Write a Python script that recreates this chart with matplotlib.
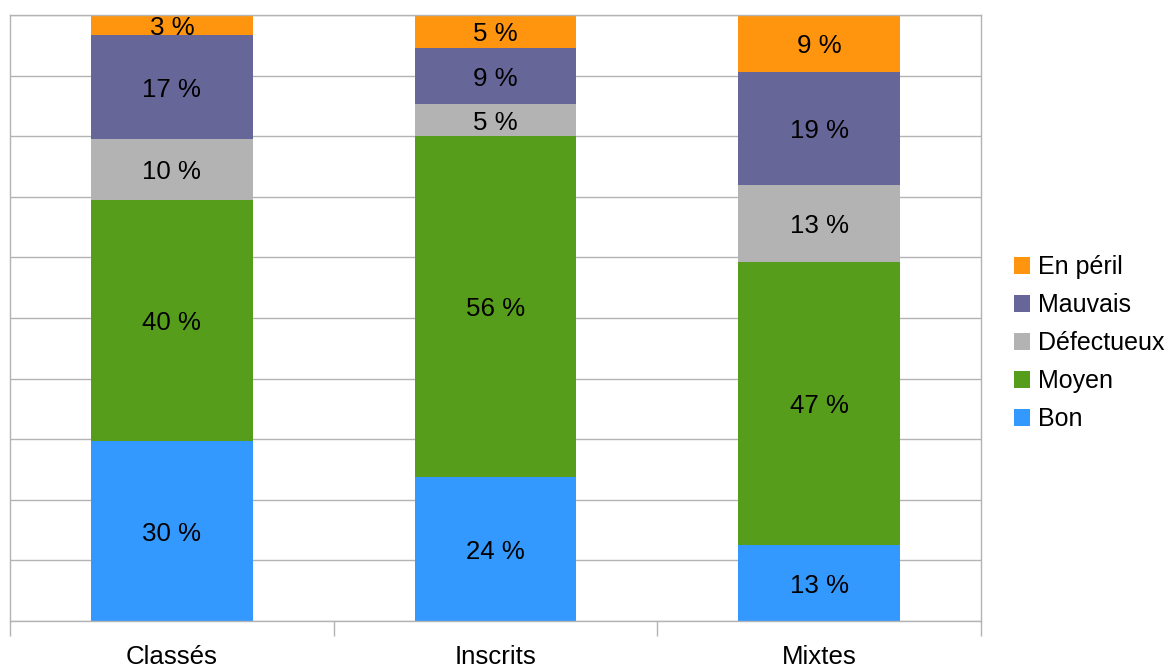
import numpy as np
import matplotlib.pyplot as plt

plt.rcParams['font.family'] = ['Liberation Sans', 'DejaVu Sans']

categories = ['Classés', 'Inscrits', 'Mixtes']
series = ['Bon', 'Moyen', 'Défectueux', 'Mauvais', 'En péril']
bon = [29.7, 23.8, 12.6]
moyen = [39.8, 56.3, 46.7]
defectueux = [10.1, 5.2, 12.6]
mauvais = [17.1, 9.3, 18.7]
en_peril = [3.3, 5.4, 9.4]
colors = ['#3399ff', '#579d1c', '#b3b3b3', '#666699', '#ff950e']

fig = plt.figure(figsize=(11.73, 6.66), dpi=100)
ax = fig.add_axes([10 / 1173, 45 / 666, 971 / 1173, 606 / 666])

x = np.arange(len(categories))
bottom = np.zeros(len(categories))
handles = []
for name, vals, c in zip(series, [bon, moyen, defectueux, mauvais, en_peril], colors):
    vals = np.array(vals)
    bars = ax.bar(x, vals, 0.5, bottom=bottom, color=c, label=name, zorder=2)
    txts = ax.bar_label(bars, labels=[f'{round(v)} %' for v in vals], label_type='center',
                        fontsize=18.6, color='black')
    for t in txts:
        t.xyann = (0, -2)  # ref labels sit a bit lower
    bottom += vals
    handles.append(bars)

ax.set_xlim(-0.5, 2.5)
ax.set_ylim(0, 100)
ax.set_yticks(np.arange(0, 101, 10))
ax.yaxis.grid(True, color='#b3b3b3', lw=1, zorder=0)
ax.tick_params(axis='y', length=0, labelleft=False)
ax.set_xticks(x)
ax.set_xticklabels(categories, fontsize=18.6)
ax.set_xticks([-0.5, 0.5, 1.5, 2.5], minor=True)
ax.tick_params(axis='x', which='major', length=0, pad=17)
ax.tick_params(axis='x', which='minor', length=11, color='#b3b3b3', width=1)
for s in ax.spines.values():
    s.set_color('#b3b3b3')
    s.set_linewidth(1)
ax.set_axisbelow(True)

fig.legend(handles[::-1], series[::-1], loc='center left', bbox_to_anchor=(991 / 1173, 1 - 343 / 666),
           frameon=False, fontsize=18, handlelength=0.65, handleheight=0.65, handletextpad=0.35,
           labelspacing=0.56)

fig.savefig('out.png', dpi=100)
